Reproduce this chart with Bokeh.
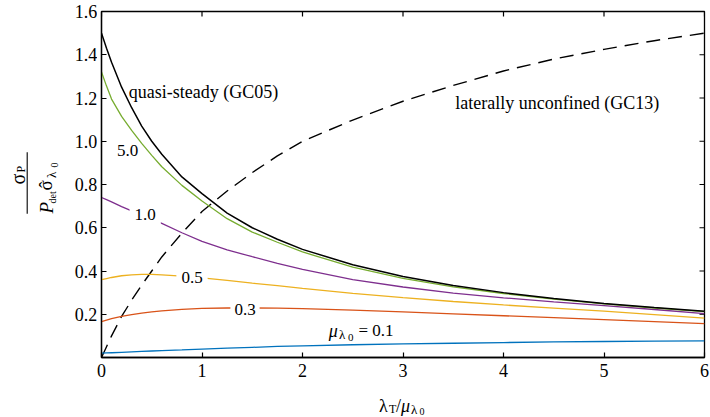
import math
from bokeh.plotting import figure
from bokeh.layouts import column, row
from bokeh.models import Range1d, FixedTicker, Label, Arrow
from bokeh.embed import file_html
from bokeh.resources import INLINE

# ---------------- data ----------------
x_ratio = [0, 0.05, 0.1, 0.2, 0.3, 0.4, 0.5, 0.6, 0.8, 1.0, 1.25, 1.5, 1.75,
           2.0, 2.5, 3.0, 3.5, 4.0, 4.5, 5.0, 5.5, 6.0]
quasi_steady = [1.50, 1.43, 1.365, 1.25, 1.155, 1.07, 1.0, 0.94, 0.835, 0.758, 0.668,
                0.60, 0.547, 0.50, 0.429, 0.375, 0.333, 0.30, 0.273, 0.25, 0.231, 0.214]
mu_5_0 = [1.32, 1.255, 1.195, 1.115, 1.05, 0.99, 0.935, 0.882, 0.796, 0.724, 0.642,
          0.58, 0.533, 0.488, 0.418, 0.366, 0.327, 0.296, 0.27, 0.248, 0.229, 0.212]
mu_1_0 = [0.74, 0.73, 0.72, 0.698, 0.678, 0.659, 0.64, 0.62, 0.577, 0.537, 0.498,
          0.466, 0.435, 0.407, 0.36, 0.326, 0.298, 0.276, 0.257, 0.24, 0.222, 0.203]
mu_0_5 = [0.36, 0.365, 0.37, 0.378, 0.382, 0.384, 0.384, 0.382, 0.376, 0.368, 0.357,
          0.344, 0.332, 0.32, 0.297, 0.277, 0.259, 0.243, 0.228, 0.214, 0.198, 0.182]
mu_0_3 = [0.166, 0.173, 0.18, 0.19, 0.198, 0.205, 0.211, 0.216, 0.223, 0.227, 0.229,
          0.229, 0.228, 0.226, 0.219, 0.211, 0.202, 0.193, 0.184, 0.175, 0.166, 0.157]
mu_0_1 = [0.02, 0.021, 0.022, 0.024, 0.026, 0.028, 0.030, 0.032, 0.035, 0.039, 0.043,
          0.047, 0.051, 0.054, 0.059, 0.063, 0.066, 0.069, 0.072, 0.074, 0.076, 0.077]
unconfined = [0.0, 0.05, 0.10, 0.19, 0.265, 0.335, 0.40, 0.465, 0.575, 0.675, 0.77,
              0.855, 0.932, 1.0, 1.098, 1.185, 1.258, 1.325, 1.38, 1.425, 1.465, 1.50]

x_ticks = [0, 1, 2, 3, 4, 5, 6]
x_tick_labels = ["0", "1", "2", "3", "4", "5", "6"]
y_ticks = [0.2, 0.4, 0.6, 0.8, 1.0, 1.2, 1.4, 1.6]
y_tick_labels = ["0.2", "0.4", "0.6", "0.8", "1.0", "1.2", "1.4", "1.6"]

series = [
    (mu_0_1, "#0072BD"),
    (mu_0_3, "#D95319"),
    (mu_0_5, "#EDB120"),
    (mu_1_0, "#7E2F8E"),
    (mu_5_0, "#77AC30"),
]

FONT = "Liberation Serif, Times New Roman, serif"

# ---------------- geometry (page pixels) ----------------
TOTAL_W, TOTAL_H = 710, 417
FL, FR, FT, FB = 101, 704, 11, 357     # frame edges
X_MAX, Y_MAX = 6.0, 1.6
PAD = 4                                # main figure border on left / bottom
YL_W = FL - PAD                        # left strip width
MW = TOTAL_W - YL_W
MH = FB + PAD
XL_H = TOTAL_H - MH

def dx(px):
    return (px - FL) / (FR - FL) * X_MAX
def dy(py):
    return (FB - py) / (FB - FT) * Y_MAX

def no_frame_align(f):
    if "frame_align" in f.properties():
        f.frame_align = False

# ---------------- main plot ----------------
p = figure(width=MW, height=MH, x_range=Range1d(0, X_MAX), y_range=Range1d(0, Y_MAX),
           title=None, output_backend="svg", toolbar_location=None,
           min_border_left=PAD, min_border_right=TOTAL_W - FR, min_border_top=FT,
           min_border_bottom=PAD)
no_frame_align(p)
p.grid.visible = False
p.outline_line_color = "black"
p.outline_line_width = 1.3
p.background_fill_color = "white"
p.border_fill_color = "white"

for ax in (p.xaxis[0], p.yaxis[0]):
    ax.axis_line_color = "black"
    ax.axis_line_width = 1.3
    ax.major_tick_in = 5
    ax.major_tick_out = 0
    ax.major_tick_line_color = "black"
    ax.major_tick_line_width = 1.2
    ax.minor_tick_line_color = None
    ax.major_label_text_color = None      # tick labels are drawn in the strips below
    ax.major_label_text_font_size = "1px"
    ax.major_label_standoff = 0
p.xaxis[0].ticker = FixedTicker(ticks=x_ticks)
p.yaxis[0].ticker = FixedTicker(ticks=y_ticks)

# inward ticks on the top and right edges (half of each dash is clipped by the frame)
p.scatter(x_ticks, [Y_MAX] * len(x_ticks), marker="dash", size=10, angle=math.pi / 2,
          line_color="black", line_width=1.2)
p.scatter([X_MAX] * len(y_ticks), y_ticks, marker="dash", size=10,
          line_color="black", line_width=1.2)

# curves
p.line(x_ratio, unconfined, line_color="black", line_width=1.4, line_dash="14 8")
for ys, col in series:
    p.line(x_ratio, ys, line_color=col, line_width=1.3)
p.line(x_ratio, quasi_steady, line_color="black", line_width=1.5)

def lab(fig, text, x, y, size, align="left", baseline="alphabetic", style="normal",
        angle=0.0, bg=None, pad=0):
    kw = dict(x=x, y=y, text=text, text_font=FONT, text_font_size=f"{size}px",
              text_align=align, text_baseline=baseline, text_color="black",
              text_font_style=style, angle=angle)
    if bg:
        kw["background_fill_color"] = bg
        kw["padding"] = pad
    fig.add_layout(Label(**kw))

def mlab(text, px, py, size, **kw):
    lab(p, text, dx(px), dy(py), size, **kw)

mlab("quasi-steady (GC05)", 203, 91.7, 18, align="center")
mlab("laterally unconfined (GC13)", 556.7, 102.7, 18, align="center")

mlab("5.0", 127, 150, 17, align="center", baseline="middle")
mlab("1.0", 144.7, 213.5, 17, align="center", baseline="middle", bg="white", pad=5)
mlab("0.5", 191.5, 276.5, 17, align="center", baseline="middle", bg="white", pad=5)
mlab("0.3", 244.5, 308.5, 17, align="center", baseline="middle", bg="white", pad=4)

mlab("\u03bc", 328.3, 330, 18, style="italic")
mlab("\u03bb", 338.5, 333.5, 13)
mlab("0", 347.5, 337, 11)
mlab("= 0.1", 358, 330, 17)

# ---------------- strips for tick labels and axis titles ----------------
def strip(w, h, xr, yr):
    f = figure(width=w, height=h, x_range=xr, y_range=yr, title=None,
               output_backend="svg", toolbar_location=None,
               x_axis_type=None, y_axis_type=None,
               min_border_left=0, min_border_right=0, min_border_top=0, min_border_bottom=0)
    no_frame_align(f)
    f.grid.visible = False
    f.outline_line_color = None
    f.background_fill_color = "white"
    f.border_fill_color = "white"
    return f

# left strip: page x 0..YL_W, page y 0..MH, same vertical scale as the main frame
yl = strip(YL_W, MH, Range1d(0, YL_W), Range1d(dy(MH), dy(0)))
for t, s in zip(y_ticks, y_tick_labels):
    lab(yl, s, FL - 4.3, t, 18, align="right", baseline="middle")

R = math.pi / 2
def ylab(text, px, py, size, **kw):
    lab(yl, text, px, dy(py), size, angle=R, **kw)
ylab("\u03c3", 17.7, 184.0, 20)
ylab("P", 20.0, 172.0, 12)
yl.add_layout(Arrow(end=None, x_start=26.7, y_start=dy(151.7), x_end=26.7, y_end=dy(213.3),
                    line_color="black", line_width=1.1))
ylab("P", 45.7, 213.0, 19, style="italic")
ylab("det", 52.0, 203.0, 10)
ylab("\u03c3", 45.0, 190.0, 19)
ylab("\u02c6", 44.5, 187.5, 19)
ylab("\u03bb", 50.8, 177.5, 13)
ylab("0", 53.5, 167.0, 10)

# bottom strip: page x 0..TOTAL_W, page y MH..TOTAL_H, same horizontal scale as the frame
xl = strip(TOTAL_W, XL_H, Range1d(dx(0), dx(TOTAL_W)), Range1d(0, XL_H))
for t, s in zip(x_ticks, x_tick_labels):
    lab(xl, s, t, TOTAL_H - 369.5, 18, align="center", baseline="middle")

def xlab(text, px, py, size, **kw):
    lab(xl, text, dx(px), TOTAL_H - py, size, **kw)
xlab("\u03bb", 378.5, 405.0, 18)
xlab("T", 388.5, 408.0, 12)
xlab("/", 395.5, 405.0, 18)
xlab("\u03bc", 400.5, 405.0, 18, style="italic")
xlab("\u03bb", 410.5, 408.5, 13)
xlab("0", 419, 411.0, 10)

layout = column(row(yl, p), xl)
open("out.html", "w").write(file_html(layout, INLINE))
